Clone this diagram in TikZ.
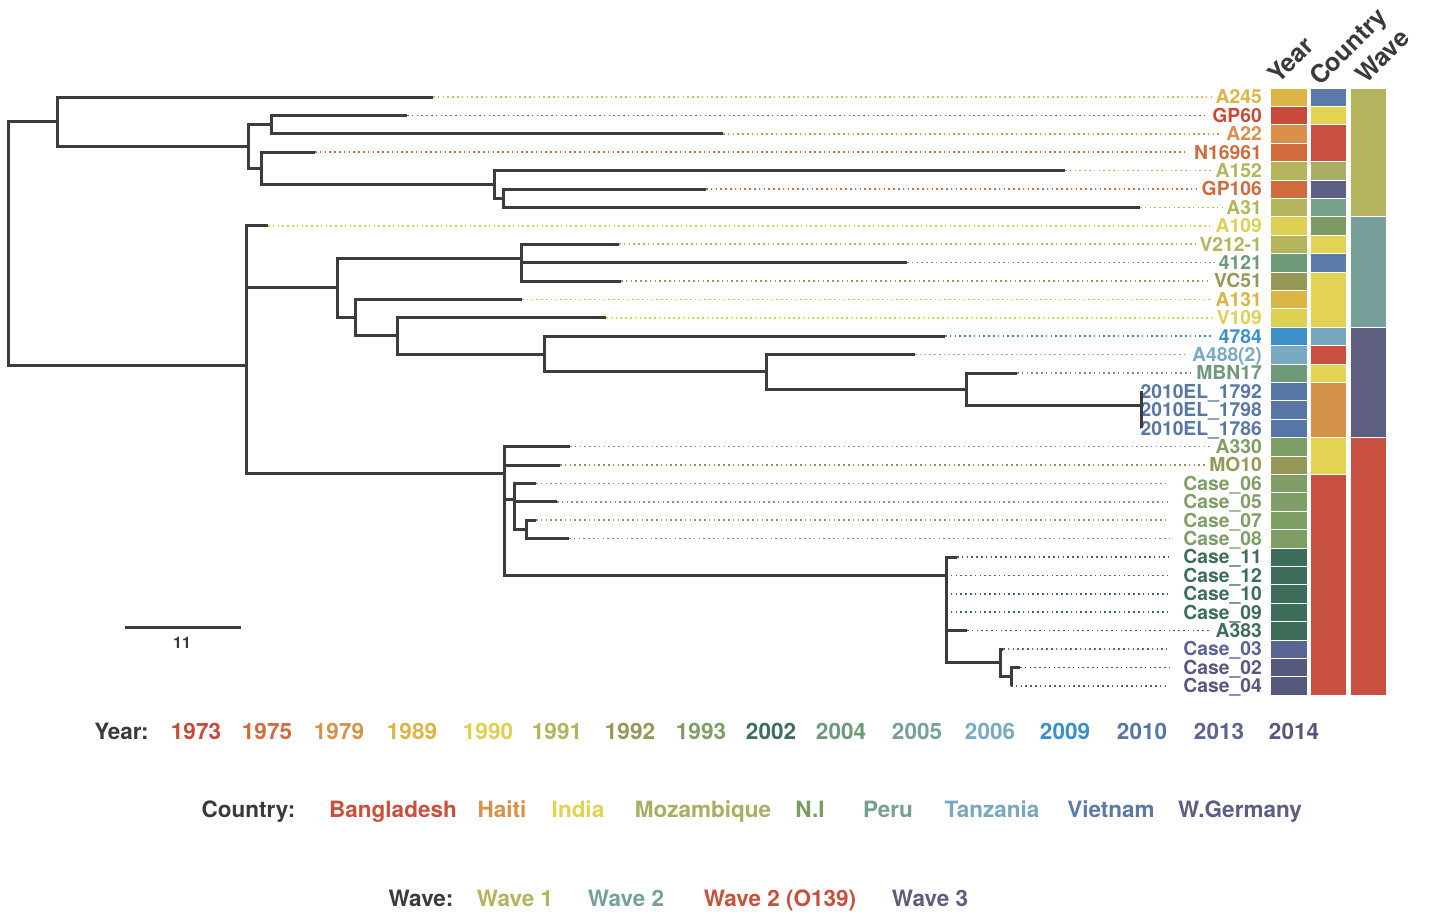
\documentclass[tikz,border=0pt]{standalone}
\usepackage{fontspec}
\setmainfont{TeX Gyre Heros}
\definecolor{dk}{HTML}{3A3A3A}
\definecolor{br}{HTML}{3C3C3C}
\definecolor{c1973}{HTML}{C84B3A}
\definecolor{c1975}{HTML}{D06C3C}
\definecolor{c1979}{HTML}{D8904A}
\definecolor{c1989}{HTML}{DDB446}
\definecolor{c1990}{HTML}{DED052}
\definecolor{c1991}{HTML}{B4B45C}
\definecolor{c1992}{HTML}{969858}
\definecolor{c1993}{HTML}{7F9E66}
\definecolor{c2002}{HTML}{3E6E5A}
\definecolor{c2004}{HTML}{6F9A7A}
\definecolor{c2005}{HTML}{78A09A}
\definecolor{c2006}{HTML}{7AAAC2}
\definecolor{c2009}{HTML}{3D8FC8}
\definecolor{c2010}{HTML}{5877A7}
\definecolor{c2013}{HTML}{596592}
\definecolor{c2014}{HTML}{56587E}
\definecolor{bangla}{HTML}{C8503E}
\definecolor{haiti}{HTML}{D4914A}
\definecolor{india}{HTML}{E2D352}
\definecolor{mozam}{HTML}{A8AE64}
\definecolor{ni}{HTML}{7C9A64}
\definecolor{peru}{HTML}{76A08A}
\definecolor{tanz}{HTML}{78A8C0}
\definecolor{viet}{HTML}{5C7AA8}
\definecolor{wger}{HTML}{5C5E84}
\definecolor{w1}{HTML}{B4B45E}
\definecolor{w2}{HTML}{78A09A}
\definecolor{wo}{HTML}{C8503E}
\definecolor{w3}{HTML}{5E5E80}
\newcommand\rowy[1]{97+18.4*#1}
\newcommand\tipleaf[6]{%
  \coordinate (t#1) at (#2,{\rowy{#3}});
  \node[tiplab,text=#4] (l#1) at (1262,{\rowy{#3}}) {#5};
  \draw[dotline,draw=#4,shorten >=#6] (t#1) -- (l#1.west);
  \fill[#4,draw=white,line width=0.4pt] (1270,{\rowy{#3}-9.2}) rectangle (1307,{\rowy{#3}+9.2});
}
\newcommand\band[4]{% column x, first row, last row, colour
  \fill[#4,draw=white,line width=0.4pt] (#1,{\rowy{#2}-9.2}) rectangle ({#1+36},{\rowy{#3}+9.2});
}
\begin{document}
\begin{tikzpicture}[x=1pt,y=-1pt,
  tiplab/.style={anchor=east,inner sep=0pt,font=\fontsize{19.3}{19.3}\selectfont\bfseries,text height=13.9pt,text depth=0pt},
  dotline/.style={line width=1.6pt,dash pattern=on 1.6pt off 3.2pt},
  brl/.style={draw=br,line width=3pt},
  hdr/.style={anchor=base west,rotate=45,inner sep=0pt,text=dk,font=\fontsize{25}{25}\selectfont\bfseries},
  leg/.style={anchor=base,inner sep=0pt,font=\fontsize{22.5}{22.5}\selectfont\bfseries}]
\useasboundingbox (0,0) rectangle (1429,911);
% internal nodes
\coordinate (root) at (8,243.6);
\coordinate (A) at (57,121.75);
\coordinate (B) at (248,146.5);
\coordinate (C) at (271,124.6);
\coordinate (D) at (261,168.3);
\coordinate (E) at (494,184.4);
\coordinate (F) at (503,198.2);
\coordinate (G) at (246,365.4);
\coordinate (H) at (337,287.8);
\coordinate (I) at (521,258);
\coordinate (J) at (355,317.7);
\coordinate (K) at (397,335.9);
\coordinate (L) at (544,354);
\coordinate (M) at (766,371.9);
\coordinate (N) at (966,389.1);
\coordinate (O) at (1141,405.2);
\coordinate (P) at (504,473.9);
\coordinate (Q) at (514,499.5);
\coordinate (S) at (526,529.4);
\coordinate (R) at (946,575.3);
\coordinate (T) at (1000,662.8);
\coordinate (U) at (1011,676.6);
% tips
\tipleaf{0}{433}{0}{c1989}{A245}{4pt}
\tipleaf{1}{407}{1}{c1973}{GP60}{4pt}
\tipleaf{2}{723}{2}{c1979}{A22}{4pt}
\tipleaf{3}{315}{3}{c1975}{N16961}{6pt}
\tipleaf{4}{1065}{4}{c1991}{A152}{4pt}
\tipleaf{5}{706}{5}{c1975}{GP106}{4pt}
\tipleaf{6}{1140}{6}{c1991}{A31}{4pt}
\tipleaf{7}{268}{7}{c1990}{A109}{4pt}
\tipleaf{8}{619}{8}{c1991}{V212-1}{4pt}
\tipleaf{9}{907}{9}{c2004}{4121}{4pt}
\tipleaf{10}{621}{10}{c1992}{VC51}{4pt}
\tipleaf{11}{522}{11}{c1989}{A131}{4pt}
\tipleaf{12}{606}{12}{c1990}{V109}{4pt}
\tipleaf{13}{945}{13}{c2009}{4784}{5pt}
\tipleaf{14}{915}{14}{c2006}{A488(2)}{6pt}
\tipleaf{15}{1017}{15}{c2004}{MBN17}{6pt}
\tipleaf{16}{1141}{16}{c2010}{2010EL\_1792}{0pt}
\tipleaf{17}{1141}{17}{c2010}{2010EL\_1798}{0pt}
\tipleaf{18}{1141}{18}{c2010}{2010EL\_1786}{0pt}
\tipleaf{19}{570}{19}{c1993}{A330}{4pt}
\tipleaf{20}{560}{20}{c1992}{MO10}{4pt}
\tipleaf{21}{536}{21}{c1993}{Case\_06}{14pt}
\tipleaf{22}{557}{22}{c1993}{Case\_05}{14pt}
\tipleaf{23}{536}{23}{c1993}{Case\_07}{14pt}
\tipleaf{24}{569}{24}{c1993}{Case\_08}{14pt}
\tipleaf{25}{957}{25}{c2002}{Case\_11}{14pt}
\tipleaf{26}{946}{26}{c2002}{Case\_12}{16pt}
\tipleaf{27}{946}{27}{c2002}{Case\_10}{16pt}
\tipleaf{28}{946}{28}{c2002}{Case\_09}{16pt}
\tipleaf{29}{967}{29}{c2002}{A383}{4pt}
\tipleaf{30}{1003}{30}{c2013}{Case\_03}{16pt}
\tipleaf{31}{1020}{31}{c2014}{Case\_02}{14pt}
\tipleaf{32}{1011}{32}{c2014}{Case\_04}{16pt}
% branches
\foreach \p/\c in {root/A,root/G,A/t0,A/B,B/C,B/D,C/t1,C/t2,D/t3,D/E,E/t4,E/F,F/t5,F/t6,
  G/t7,G/H,G/P,H/I,H/J,I/t8,I/t9,I/t10,J/t11,J/K,K/t12,K/L,L/t13,L/M,M/t14,M/N,N/t15,N/O,
  O/t16,O/t17,O/t18,P/t19,P/t20,P/Q,P/R,Q/t21,Q/t22,Q/S,S/t23,S/t24,
  R/t25,R/t26,R/t27,R/t28,R/t29,R/T,T/t30,T/U,U/t31,U/t32}
  \draw[brl] (\p) |- (\c);
% country column
\band{1310}{0}{0}{viet}
\band{1310}{1}{1}{india}
\band{1310}{2}{3}{bangla}
\band{1310}{4}{4}{mozam}
\band{1310}{5}{5}{wger}
\band{1310}{6}{6}{peru}
\band{1310}{7}{7}{ni}
\band{1310}{8}{8}{india}
\band{1310}{9}{9}{viet}
\band{1310}{10}{12}{india}
\band{1310}{13}{13}{tanz}
\band{1310}{14}{14}{bangla}
\band{1310}{15}{15}{india}
\band{1310}{16}{18}{haiti}
\band{1310}{19}{20}{india}
\band{1310}{21}{32}{bangla}
% wave column
\band{1350}{0}{6}{w1}
\band{1350}{7}{12}{w2}
\band{1350}{13}{18}{w3}
\band{1350}{19}{32}{wo}
% column headers
\node[hdr] (hy) at (1278,85) {Year};
\node[hdr] (hc) at (1320,87) {Country};
\node[hdr] (hw) at (1366,85) {Wave};
% scale bar
\coordinate (sb1) at (125,627);
\coordinate (sb2) at (241,627);
\draw[draw=br,line width=3pt] (sb1) -- (sb2);
\node[anchor=base,inner sep=0pt,text=dk,font=\fontsize{16}{16}\selectfont\bfseries] (sbl) at (182,648) {11};
% legends
\node[leg,text=dk] (ly) at (121.5,739) {Year:};
\foreach \yr/\xx in {1973/196,1975/267,1979/339,1989/412,1990/488,1991/557,1992/630,1993/701,
  2002/771,2004/841,2005/917,2006/990,2009/1065,2010/1142,2013/1219,2014/1294}
  \node[leg,text=c\yr] (ly\yr) at (\xx,739) {\yr};
\node[leg,text=dk] (lc) at (248.5,817) {Country:};
\node[leg,text=bangla] (lc1) at (393,817) {Bangladesh};
\node[leg,text=haiti] (lc2) at (502,817) {Haiti};
\node[leg,text=india] (lc3) at (578,817) {India};
\node[leg,text=mozam] (lc4) at (703,817) {Mozambique};
\node[leg,text=ni] (lc5) at (810,817) {N.I};
\node[leg,text=peru] (lc6) at (888,817) {Peru};
\node[leg,text=tanz] (lc7) at (992,817) {Tanzania};
\node[leg,text=viet] (lc8) at (1111,817) {Vietnam};
\node[leg,text=wger] (lc9) at (1240,817) {W.Germany};
\node[leg,text=dk] (lw) at (421,906) {Wave:};
\node[leg,text=w1] (lw1) at (515,906) {Wave 1};
\node[leg,text=w2] (lw2) at (626,906) {Wave 2};
\node[leg,text=wo] (lw3) at (780,906) {Wave 2 (O139)};
\node[leg,text=w3] (lw4) at (930,906) {Wave 3};
\end{tikzpicture}
\end{document}
